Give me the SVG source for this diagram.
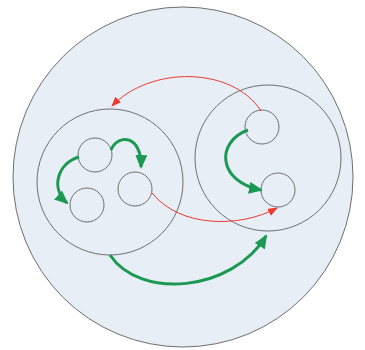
<svg xmlns="http://www.w3.org/2000/svg" width="365" height="350" viewBox="0 0 365 350">
<style>
.c{fill:none;stroke:#6e6e6e;stroke-width:1}
.g{fill:none;stroke:#1b9852;stroke-width:3}
.r{fill:none;stroke:#ec3a2e;stroke-width:1}
</style>
<defs>
<marker id="ga" viewBox="0 0 14 12" refX="12" refY="6" markerWidth="14" markerHeight="12" markerUnits="userSpaceOnUse" orient="auto"><path d="M0,0 L14,6 L0,12 Z" fill="#1b9852"/></marker>
<marker id="ra" viewBox="0 0 10 8" refX="9" refY="4" markerWidth="10" markerHeight="8" markerUnits="userSpaceOnUse" orient="auto"><path d="M0,0 L10,4 L0,8 Z" fill="#ec3a2e"/></marker>
</defs>
<rect width="365" height="350" fill="#fff"/>
<g id="outer"><circle cx="183" cy="177" r="170" fill="#e8eef6" stroke="#6e6e6e" stroke-width="1"/></g>
<g id="left"><circle class="c" cx="110" cy="182" r="73"/></g>
<g id="right"><circle class="c" cx="268" cy="158" r="73"/></g>
<g id="l1"><circle class="c" cx="95" cy="155" r="17"/></g>
<g id="l2"><circle class="c" cx="135" cy="189" r="17"/></g>
<g id="l3"><circle class="c" cx="87" cy="205" r="17"/></g>
<g id="r1"><circle class="c" cx="262" cy="127" r="17"/></g>
<g id="r2"><circle class="c" cx="278" cy="190" r="17"/></g>
<g id="connectors">
<path class="g" d="M79,157 C58,163 50,188 67,203" marker-end="url(#ga)"/>
<path class="g" d="M111,150 C118,133 142,135 141,167" marker-end="url(#ga)"/>
<path class="g" d="M248,130 C215,142 218,182 261,190" marker-end="url(#ga)"/>
<path class="g" d="M110,255 C140,300 232,292 266,236" marker-end="url(#ga)"/>
<path class="r" d="M261,111 C232,66 150,66 112,106" marker-end="url(#ra)"/>
<path class="r" d="M152,193 C180,228 240,228 277,208" marker-end="url(#ra)"/>
</g>
</svg>
